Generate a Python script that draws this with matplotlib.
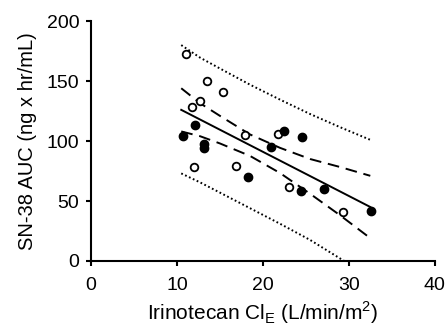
import matplotlib
matplotlib.use("Agg")
import matplotlib.pyplot as plt

plt.rcParams['font.family'] = ['Liberation Sans', 'DejaVu Sans']

# Observed points
open_x = [11.1, 13.45, 15.4, 12.7, 11.8, 17.9, 21.8, 12.0, 16.9, 23.0, 29.3]
open_y = [172.5, 150, 141, 133, 128, 105, 106, 78, 79.4, 62, 41]
filled_x = [12.1, 10.7, 13.2, 13.2, 22.4, 24.5, 21.0, 18.3, 24.4, 27.1, 32.6]
filled_y = [113, 104, 97.5, 94, 108.6, 103.6, 95, 70, 58.6, 60, 41.7]

# Regression line
fit_x = [10.5, 32.5]
fit_y = [126, 45]

# Confidence / prediction bands
band_x = [10.5, 12.7, 15, 18.5, 22, 25.5, 29, 32.5]
ci_upper = [144, 131.5, 121, 105.5, 94.3, 85, 78.3, 71]
ci_lower = [108, 104, 98, 87.6, 73.3, 56, 38, 19]
pi_upper = [180, 169.5, 160.5, 147, 134.5, 122.5, 111.5, 101]
pi_lower = [73, 65.5, 57, 44, 31, 17.5, 2, -13]

fig = plt.figure(figsize=(4.47, 3.35), dpi=100)
ax = fig.add_axes([0.2036, 0.221, 0.769, 0.716])

ax.plot(fit_x, fit_y, color='black', lw=1.4)
ax.plot(band_x, ci_upper, color='black', lw=1.4, dashes=(6, 3.5))
ax.plot(band_x, ci_lower, color='black', lw=1.4, dashes=(6, 3.5))
ax.plot(band_x, pi_upper, color='black', lw=1.4, dashes=(0.9, 1.3))
ax.plot(band_x, pi_lower, color='black', lw=1.4, dashes=(0.9, 1.3))

ax.plot(open_x, open_y, 'o', ms=5.5, mfc='white', mec='black', mew=1.3, zorder=3)
ax.plot(filled_x, filled_y, 'o', ms=6, mfc='black', mec='black', zorder=3)

ax.set_xlim(0, 40)
ax.set_ylim(0, 200)
ax.set_xticks([0, 10, 20, 30, 40])
ax.set_yticks([0, 50, 100, 150, 200])
for s in ['top', 'right']:
    ax.spines[s].set_visible(False)
for s in ['left', 'bottom']:
    ax.spines[s].set_linewidth(1.5)
ax.tick_params(direction='out', length=3.5, width=1.5, labelsize=14)
ax.tick_params(axis='x', pad=8)
ax.tick_params(axis='y', pad=5)

ax.set_xlabel(r'Irinotecan Cl$_\mathregular{E}$ (L/min/m$^\mathregular{2}$)', fontsize=15, labelpad=4)
ax.set_ylabel('SN-38 AUC (ng x hr/mL)', fontsize=14.5, labelpad=7)

fig.savefig('out.png', dpi=100)
